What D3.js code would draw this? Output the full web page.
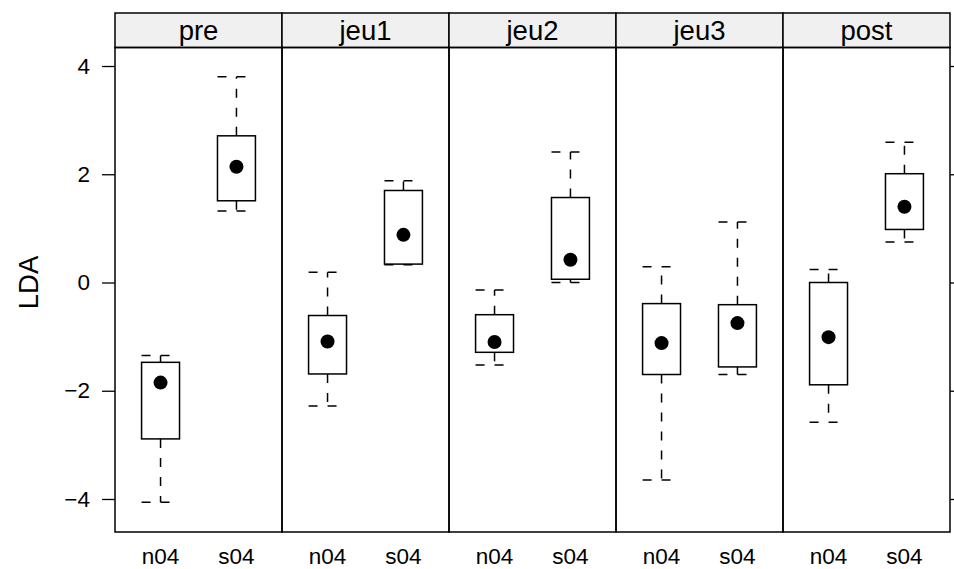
<!DOCTYPE html>
<html>
<head>
<meta charset="utf-8">
<script src="https://cdn.jsdelivr.net/npm/d3@7"></script>
<style>
  body { margin: 0; background: #fff; }
  text { font-family: "Liberation Sans", Arial, sans-serif; fill: #000; }
</style>
</head>
<body>
<svg id="chart"></svg>
<script>
// panels (conditioning factor) and groups within each panel
const phases = ['pre', 'jeu1', 'jeu2', 'jeu3', 'post'];
const groups = ['n04', 's04'];
const yTicks = [-4, -2, 0, 2, 4];

// five-number summaries, in order pre/n04, pre/s04, jeu1/n04, ...
const lowerWhisker = [-4.06, 1.32, -2.28, 0.33, -1.525, 0.00, -3.65, -1.70, -2.58, 0.75];
const lowerHinge   = [-2.89, 1.51, -1.69, 0.34, -1.29, 0.06, -1.70, -1.56, -1.89, 0.98];
const medians      = [-1.85, 2.14, -1.09, 0.88, -1.10, 0.42, -1.12, -0.75, -1.01, 1.40];
const upperHinge   = [-1.475, 2.71, -0.61, 1.70, -0.595, 1.57, -0.39, -0.41, 0.00, 2.01];
const upperWhisker = [-1.35, 3.80, 0.19, 1.88, -0.14, 2.41, 0.29, 1.12, 0.24, 2.59];

class PanelBoxPlot {

  constructor(_config, _data) {
    this.config = {
      parentElement: _config.parentElement,
      containerWidth: _config.containerWidth || 954,
      containerHeight: _config.containerHeight || 569,
      margin: _config.margin || {top: 47.5, right: 4, bottom: 37, left: 115},
      stripHeight: _config.stripHeight || 34.5,
      axisFont: _config.axisFont || '22.5px',   // lattice axis text, cex 0.8
      labelFont: _config.labelFont || '27.5px'  // strip + ylab, cex 1
    };
    this.data = _data;
    this.initVis();
  }

  initVis() {
    let vis = this;
    vis.width = vis.config.containerWidth - vis.config.margin.left - vis.config.margin.right;
    vis.height = vis.config.containerHeight - vis.config.margin.top - vis.config.margin.bottom;

    vis.svg = d3.select(vis.config.parentElement)
        .attr('width', vis.config.containerWidth)
        .attr('height', vis.config.containerHeight);

    vis.chart = vis.svg.append('g')
        .attr('transform', `translate(${vis.config.margin.left},${vis.config.margin.top})`);

    // one column per phase
    vis.panelScale = d3.scaleBand()
        .domain(phases)
        .range([0, vis.width])
        .padding(0);

    // position of groups inside a panel (lattice style: 1..n padded by 0.6)
    vis.xScale = d3.scaleLinear()
        .domain([0.4, groups.length + 0.6])
        .range([0, vis.panelScale.bandwidth()]);

    vis.yScale = d3.scaleLinear()
        .domain([-4.61, 4.342])
        .range([vis.height, 0]);

    vis.yAxis = d3.axisLeft(vis.yScale)
        .tickValues(yTicks)
        .tickSize(13)
        .tickPadding(12)
        .tickFormat(d => d < 0 ? '\u2212' + Math.abs(d) : d);

    vis.yAxisRight = d3.axisRight(vis.yScale)
        .tickValues(yTicks)
        .tickSize(8)
        .tickFormat('');

    vis.chart.append('text')
        .attr('transform', `translate(${28 - vis.config.margin.left},${vis.yScale(0)}) rotate(-90)`)
        .attr('text-anchor', 'middle')
        .attr('dy', '0.35em')
        .style('font-size', vis.config.labelFont)
        .text('LDA');
  }

  updateVis() {
    let vis = this;
    vis.xValue = d => vis.panelScale(d.phase) + vis.xScale(groups.indexOf(d.group) + 1);
    vis.boxWidth = vis.xScale(1.5) - vis.xScale(1);
    vis.renderVis();
  }

  renderVis() {
    let vis = this;
    const bw = vis.panelScale.bandwidth();

    // strips
    const strips = vis.chart.selectAll('.strip')
        .data(phases)
      .join('g')
        .attr('class', 'strip')
        .attr('transform', d => `translate(${vis.panelScale(d)},${-vis.config.stripHeight})`);

    strips.append('rect')
        .attr('width', bw)
        .attr('height', vis.config.stripHeight)
        .attr('fill', '#f0f0f0')
        .attr('stroke', '#000')
        .attr('stroke-width', 1.5);

    strips.append('text')
        .attr('x', bw / 2)
        .attr('y', vis.config.stripHeight / 2)
        .attr('dy', '0.35em')
        .attr('text-anchor', 'middle')
        .style('font-size', vis.config.labelFont)
        .text(d => d);

    // panel frames
    vis.chart.selectAll('.frame')
        .data(phases)
      .join('rect')
        .attr('class', 'frame')
        .attr('x', d => vis.panelScale(d))
        .attr('width', bw)
        .attr('height', vis.height)
        .attr('fill', 'none')
        .attr('stroke', '#000')
        .attr('stroke-width', 1.5);

    // category labels under every panel
    const labels = [];
    phases.forEach(p => groups.forEach(g => labels.push({phase: p, group: g})));
    vis.chart.selectAll('.xlab')
        .data(labels)
      .join('text')
        .attr('class', 'xlab')
        .attr('x', d => vis.xValue(d))
        .attr('y', vis.height + 24)
        .attr('dy', '0.35em')
        .attr('text-anchor', 'middle')
        .style('font-size', vis.config.axisFont)
        .text(d => d.group);

    // whiskers drawn from hinge outwards, then the staple
    const dash = '9,10';
    const half = vis.boxWidth / 2;
    const boxes = vis.chart.selectAll('.box')
        .data(vis.data)
      .join('g')
        .attr('class', 'box');

    const segs = [
      d => `M${vis.xValue(d)},${vis.yScale(d.q3)}V${vis.yScale(d.hi)}`,
      d => `M${vis.xValue(d)},${vis.yScale(d.q1)}V${vis.yScale(d.lo)}`,
      d => `M${vis.xValue(d) - half},${vis.yScale(d.hi)}H${vis.xValue(d) + half}`,
      d => `M${vis.xValue(d) - half},${vis.yScale(d.lo)}H${vis.xValue(d) + half}`
    ];
    segs.forEach(f => {
      boxes.append('path')
          .attr('fill', 'none')
          .attr('stroke', '#000')
          .attr('stroke-width', 1.5)
          .attr('stroke-dasharray', dash)
          .attr('d', f);
    });

    boxes.append('rect')
        .attr('x', d => vis.xValue(d) - half)
        .attr('y', d => vis.yScale(d.q3))
        .attr('width', vis.boxWidth)
        .attr('height', d => vis.yScale(d.q1) - vis.yScale(d.q3))
        .attr('fill', 'none')
        .attr('stroke', '#000')
        .attr('stroke-width', 1.5);

    boxes.append('circle')
        .attr('cx', d => vis.xValue(d))
        .attr('cy', d => vis.yScale(d.med))
        .attr('r', 7)
        .attr('fill', '#000');

    // axes
    vis.chart.append('g')
        .attr('class', 'axis y-axis')
        .call(vis.yAxis)
        .call(g => g.select('.domain').remove())
        .call(g => g.selectAll('line').attr('stroke-width', 1.3))
        .call(g => g.selectAll('text').style('font-size', vis.config.axisFont).attr('fill', '#000'));

    vis.chart.append('g')
        .attr('class', 'axis y-axis-right')
        .attr('transform', `translate(${vis.width},0)`)
        .call(vis.yAxisRight)
        .call(g => g.select('.domain').remove())
        .call(g => g.selectAll('line').attr('stroke-width', 1.3));
  }
}

const data = [];
phases.forEach((p, i) => groups.forEach((g, j) => {
  const k = i * groups.length + j;
  data.push({phase: p, group: g, lo: lowerWhisker[k], q1: lowerHinge[k],
             med: medians[k], q3: upperHinge[k], hi: upperWhisker[k]});
}));

const plot = new PanelBoxPlot({parentElement: '#chart'}, data);
plot.updateVis();
</script>
</body>
</html>
